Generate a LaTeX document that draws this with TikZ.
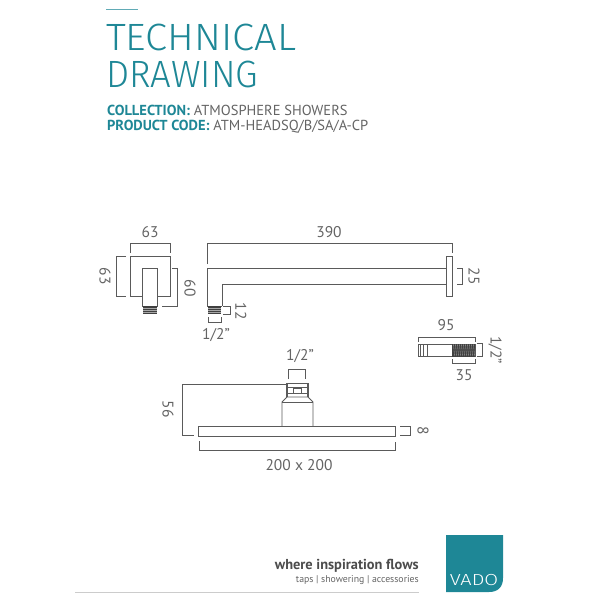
\documentclass[tikz,border=0pt]{standalone}
\usepackage{fontspec}
\setmainfont{PT Sans}
\newfontfamily\titlefont{Fira Sans Light}
\definecolor{vadoteal}{RGB}{30,135,150}
\definecolor{inkgrey}{RGB}{90,90,90}
\definecolor{textgrey}{RGB}{100,100,100}
\tikzset{
	part/.style={draw=inkgrey, line width=0.9pt},
	dimline/.style={draw=inkgrey, line width=0.8pt},
	threadfill/.style={fill=black!75},
	threadline/.style={draw=black!35, line width=0.3pt},
	dimlabel/.style={text=textgrey, inner sep=0pt, font=\fontsize{15.5}{15}\selectfont},
	headline/.style={text=vadoteal, inner sep=0pt, anchor=west, font=\titlefont\fontsize{38}{38}\selectfont},
	infoline/.style={text=vadoteal, inner sep=0pt, anchor=west, font=\fontsize{14.5}{14.5}\selectfont}
}
\begin{document}
\begin{tikzpicture}[x=1pt, y=-1pt]
	\useasboundingbox (0,0) rectangle (600,600);
	% header
	\draw[vadoteal!70, line width=0.5pt] (106,9.5) -- (138,9.5);
	\node[headline, xscale=1.05] (title1) at (106,37) {TECHNICAL};
	\node[headline, xscale=0.96] (title2) at (106,74) {DRAWING};
	\node[infoline] (coll) at (107,110) {\textbf{COLLECTION:} \textcolor{textgrey}{ATMOSPHERE SHOWERS}};
	\node[infoline] (code) at (107,127) {\textbf{PRODUCT CODE:} \textcolor{textgrey}{ATM-HEADSQ/B/SA/A-CP}};
	% wall plate, front
	\draw[part] (130,256) rectangle (170,296);
	\draw[part, fill=white] (142,268) rectangle (157.5,306);
	\fill[threadfill] (143,306) rectangle (157,314);
	\foreach \ry in {308,310,312}
		\draw[threadline] (143,\ry) -- (157,\ry);
	\draw[dimline] (130,253) -- (130,243) -- (170,243) -- (170,253);
	\draw[dimline] (126,256) -- (116,256) -- (116,296) -- (126,296);
	\draw[dimline] (172,268) -- (177,268) -- (177,306) -- (162,306);
	\node[dimlabel] (w63) at (150,232) {63};
	\node[dimlabel, rotate=-90] (h63) at (105,276) {63};
	\node[dimlabel, rotate=-90] (h60) at (190,288) {60};
	% arm, side
	\draw[part] (207,306) -- (207,268) -- (446,268);
	\draw[part] (222,306) -- (222,284) -- (446,284);
	\draw[part] (207,306) -- (222,306);
	\fill[threadfill] (208,306) rectangle (221,314);
	\foreach \ry in {308,310,312}
		\draw[threadline] (208,\ry) -- (221,\ry);
	\draw[part] (446,256) rectangle (452,296);
	\draw[dimline] (207,264) -- (207,243) -- (452,243) -- (452,253);
	\draw[dimline] (457,268) -- (462,268) -- (462,284) -- (457,284);
	\draw[dimline] (223,306) -- (230,306) -- (230,314) -- (223,314);
	\draw[dimline] (208,317) -- (208,322) -- (221,322) -- (221,317);
	\node[dimlabel] (w390) at (329,232) {390};
	\node[dimlabel, rotate=-90] (h25) at (474,276) {25};
	\node[dimlabel, rotate=-90] (h12) at (241,311) {12};
	\node[dimlabel] (arm12) at (216,335) {1/2''};
	% cartridge
	\draw[part] (418,344) rectangle (475,356);
	\fill[threadfill] (452,343.5) rectangle (475,356.5);
	\foreach \rx in {453.5,455.5,...,474}
		\draw[threadline] (\rx,344) -- (\rx+1,356);
	\foreach \rx in {420,423,427}
		\draw[part] (\rx,344) -- (\rx,356);
	\draw[dimline] (418,342) -- (418,337) -- (475,337) -- (475,342);
	\draw[dimline] (477,343.5) -- (482,343.5) -- (482,356) -- (477,356);
	\draw[dimline] (452,359) -- (452,363) -- (475,363) -- (475,359);
	\node[dimlabel] (w95) at (446,325) {95};
	\node[dimlabel] (w35) at (464,375) {35};
	\node[dimlabel, rotate=-90] (h12b) at (495,350) {1/2''};
	% shower head
	\draw[part] (198.5,426.5) rectangle (395,436);
	\draw[part] (282,426.5) -- (282,402) -- (287,397) -- (308,397) -- (313,402) -- (313,426.5);
	\draw[part] (282,402) -- (313,402);
	\draw[part, line width=1.2pt] (287,397) -- (287,383.5) -- (308,383.5) -- (308,397);
	\draw[part] (287,387) -- (308,387);
	\draw[part] (287,393.5) -- (308,393.5);
	\draw[part] (293,388) rectangle (301,393);
	\draw[dimline] (288,379) -- (288,369.5) -- (305,369.5) -- (305,379);
	\draw[dimline] (286,384) -- (182,384) -- (182,435.5) -- (194,435.5);
	\draw[dimline] (199,441) -- (199,450) -- (395,450) -- (395,442);
	\draw[dimline] (400,426.5) -- (410,426.5) -- (410,435.5) -- (400,435.5);
	\node[dimlabel] (top12) at (300,356) {1/2''};
	\node[dimlabel, rotate=-90] (h56) at (168,409) {56};
	\node[dimlabel] (w200) at (299,465) {200 x 200};
	\node[dimlabel, rotate=-90] (h8) at (423,431) {8};
	% footer
	\draw[draw=black!20, line width=1pt] (75,592) -- (419,592);
	\node[text=black!70, inner sep=0pt, anchor=east, font=\bfseries\fontsize{14.4}{14.4}\selectfont] (slogan) at (419,566) {where inspiration flows};
	\node[text=textgrey, inner sep=0pt, anchor=east, font=\fontsize{9.8}{10}\selectfont] (sub) at (419,580) {taps | showering | accessories};
	\fill[vadoteal] (446,535) -- (503,535) -- (503,578) .. controls (503,587) and (498,592) .. (489,592) -- (446,592) -- cycle;
	\node[text=white, inner sep=0pt, xscale=1.25, font=\titlefont\fontsize{16}{16}\selectfont] (logo) at (474,580) {VADO};
\end{tikzpicture}
\end{document}
